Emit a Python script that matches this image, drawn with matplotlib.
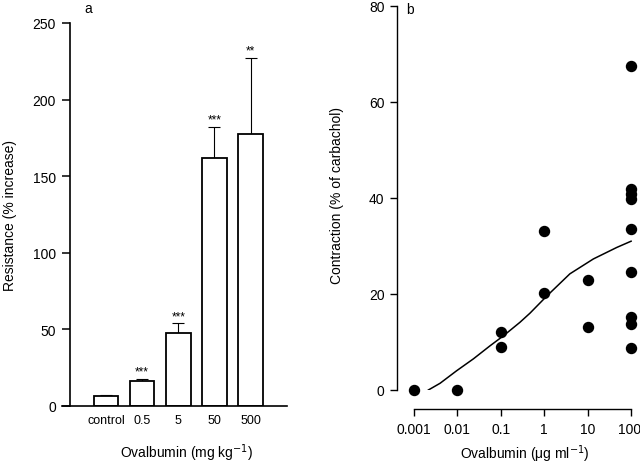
import matplotlib
matplotlib.use("Agg")
import matplotlib.pyplot as plt
import matplotlib.transforms as mtransforms
import numpy as np

plt.rcParams['font.family'] = ['Liberation Sans', 'DejaVu Sans']

# panel a: airway resistance
doses_a = ["control", "0.5", "5", "50", "500"]
resistance = [6.5, 16.3, 47.5, 161.7, 177.7]
resistance_err = [0.8, 1.2, 6.4, 20.4, 49.7]
stars = ["", "***", "***", "***", "**"]

# panel b: contraction vs ovalbumin
ova_x = [0.001, 0.01, 0.1, 0.1, 1, 1, 10, 10,
         100, 100, 100, 100, 100, 100, 100, 100, 100]
contraction = [0, 0, 12.1, 9.0, 20.3, 33.1, 22.9, 13.1,
               67.6, 41.8, 40.8, 39.8, 33.6, 24.5, 15.3, 13.7, 8.7]
# fitted curve
fit_x = [0.00214, 0.00398, 0.00955, 0.0234, 0.0562, 0.115, 0.275, 0.468,
         1.15, 3.89, 13.5, 46.8, 100]
fit_y = [0, 1.4, 4.0, 6.5, 9.2, 11.3, 14.1, 16.0, 19.6, 24.2, 27.3, 29.7, 31.0]

fig = plt.figure(figsize=(6.4, 4.64), dpi=100)

# ---- panel a
ax1 = fig.add_axes([62/640, 1-407/464, 225/640, 383/464])
pos = np.arange(len(doses_a))
ax1.bar(pos, resistance, width=0.68, color='white', edgecolor='black', linewidth=1.3, zorder=2)
ax1.errorbar(pos, resistance, yerr=[np.zeros(len(pos)), resistance_err], fmt='none',
             ecolor='black', elinewidth=0.8, capsize=4, capthick=0.8, zorder=1)
for p, v, e, s in zip(pos, resistance, resistance_err, stars):
    if s:
        ax1.annotate(s, (p, v + e), xytext=(0, 1), textcoords='offset points',
                     ha='center', va='bottom', fontsize=8.5)
ax1.set_xlim(-1.22, 5.01)
ax1.set_ylim(0, 250)
ax1.set_yticks([0, 50, 100, 150, 200, 250])
ax1.spines['left'].set_position(('data', -1.0))
ax1.spines['top'].set_visible(False)
ax1.spines['right'].set_visible(False)
ax1.spines['left'].set_linewidth(1.2)
ax1.spines['bottom'].set_linewidth(1.2)
ax1.set_xticks(pos)
ax1.set_xticklabels(doses_a, fontsize=9)
ax1.tick_params(axis='x', length=0, pad=6)
ax1.tick_params(axis='y', labelsize=10, length=6, width=1.1, pad=4)
fig.text(187/640, 1-453/464, "Ovalbumin (mg kg$^{-1}$)", ha='center', va='center', fontsize=10)
fig.text(10/640, 1-216/464, "Resistance (% increase)", ha='center', va='center',
         rotation=90, fontsize=10)
fig.text(88/640, 1-9/464, "a", ha='center', va='center', fontsize=10)

# ---- panel b
ax2 = fig.add_axes([397/640, 1-391/464, 238/640, 384/464])
ax2.set_xscale('log')
ax2.plot(fit_x, fit_y, color='black', lw=1.1)
ax2.plot(ova_x, contraction, 'o', color='black', ms=7.2, clip_on=False)
ax2.set_xlim(10**-3.392, 10**2.09)
ax2.set_ylim(0, 80)
ax2.set_yticks([0, 20, 40, 60, 80])
ax2.set_xticks([0.001, 0.01, 0.1, 1, 10, 100])
ax2.set_xticklabels(["0.001", "0.01", "0.1", "1", "10", "100"], fontsize=9)
ax2.minorticks_off()
ax2.spines['top'].set_visible(False)
ax2.spines['right'].set_visible(False)
ax2.spines['bottom'].set_position(('outward', 13.7))
ax2.spines['bottom'].set_bounds(0.001, 100)
ax2.spines['left'].set_linewidth(1.0)
ax2.spines['bottom'].set_linewidth(1.0)
ax2.tick_params(axis='y', labelsize=10, length=5, width=1.0, pad=4)
ax2.tick_params(axis='x', length=5, width=1.0, pad=4)
# keep the "100" label inside the figure edge
last = ax2.get_xticklabels()[-1]
last.set_transform(last.get_transform() + mtransforms.ScaledTranslation(-2/100, 0, fig.dpi_scale_trans))
fig.text(525/640, 1-454/464, "Ovalbumin (\u03bcg ml$^{-1}$)", ha='center', va='center', fontsize=10)
fig.text(337/640, 1-195/464, "Contraction (% of carbachol)", ha='center', va='center',
         rotation=90, fontsize=10)
fig.text(410/640, 1-10/464, "b", ha='center', va='center', fontsize=10)

fig.savefig("out.png", dpi=100)
